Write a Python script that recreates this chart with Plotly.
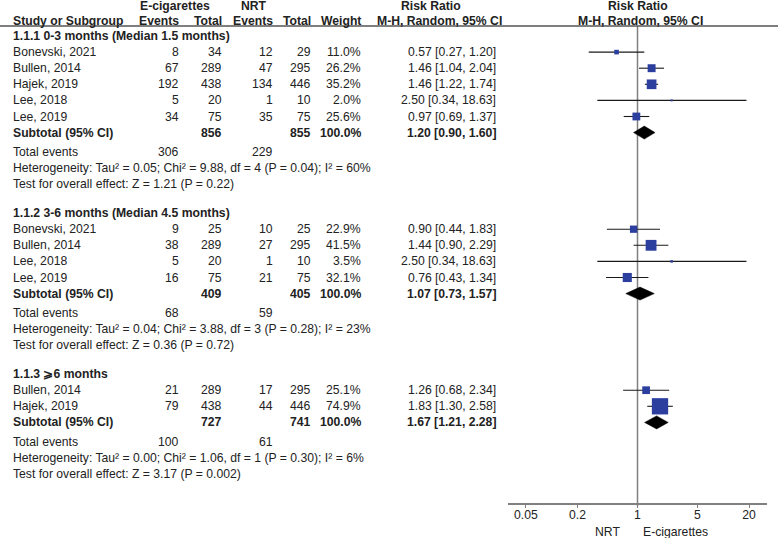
import plotly.graph_objects as go

W, H = 778, 538

# ---- data ----
group_titles = ["1.1.1 0-3 months (Median 1.5 months)",
                "1.1.2 3-6 months (Median 4.5 months)",
                "1.1.3 ⩾6 months"]

study_names = [["Bonevski, 2021", "Bullen, 2014", "Hajek, 2019", "Lee, 2018", "Lee, 2019"],
               ["Bonevski, 2021", "Bullen, 2014", "Lee, 2018", "Lee, 2019"],
               ["Bullen, 2014", "Hajek, 2019"]]
ecig_events = [[8, 67, 192, 5, 34], [9, 38, 5, 16], [21, 79]]
ecig_total = [[34, 289, 438, 20, 75], [25, 289, 20, 75], [289, 438]]
nrt_events = [[12, 47, 134, 1, 35], [10, 27, 1, 21], [17, 44]]
nrt_total = [[29, 295, 446, 10, 75], [25, 295, 10, 75], [295, 446]]
weights = [[11.0, 26.2, 35.2, 2.0, 25.6], [22.9, 41.5, 3.5, 32.1], [25.1, 74.9]]
rr = [[0.57, 1.46, 1.46, 2.50, 0.97], [0.90, 1.44, 2.50, 0.76], [1.26, 1.83]]
rr_lo = [[0.27, 1.04, 1.22, 0.34, 0.69], [0.44, 0.90, 0.34, 0.43], [0.68, 1.30]]
rr_hi = [[1.20, 2.04, 1.74, 18.63, 1.37], [1.83, 2.29, 18.63, 1.34], [2.34, 2.58]]

sub_ecig_total = [856, 409, 727]
sub_nrt_total = [855, 405, 741]
sub_rr = [1.20, 1.07, 1.67]
sub_lo = [0.90, 0.73, 1.21]
sub_hi = [1.60, 1.57, 2.28]
tot_ecig_events = [306, 68, 100]
tot_nrt_events = [229, 59, 61]
heterogeneity = ["Heterogeneity: Tau² = 0.05; Chi² = 9.88, df = 4 (P = 0.04); I² = 60%",
                 "Heterogeneity: Tau² = 0.04; Chi² = 3.88, df = 3 (P = 0.28); I² = 23%",
                 "Heterogeneity: Tau² = 0.00; Chi² = 1.06, df = 1 (P = 0.30); I² = 6%"]
overall_test = ["Test for overall effect: Z = 1.21 (P = 0.22)",
                "Test for overall effect: Z = 0.36 (P = 0.72)",
                "Test for overall effect: Z = 3.17 (P = 0.002)"]

tick_vals = [0.05, 0.2, 1, 5, 20]
tick_text = ["0.05", "0.2", "1", "5", "20"]

# ---- layout constants ----
FONT = "Liberation Sans, Arial, sans-serif"
FS = 12.2
TXT = "#222222"
BLUE = "#2d3f9e"
ROW0, STEP = 36, 16.1
X_STUDY, X_EEV, X_ETOT, X_NEV, X_NTOT, X_WT, X_RR = 12, 180, 223, 274, 312, 362, 497

annotations = []


def txt(x, y, s, anchor="left", bold=False):
    annotations.append(dict(x=x / W, xref="paper", y=y, yref="y",
                            text=f"<b>{s}</b>" if bold else s, showarrow=False,
                            xanchor=anchor, yanchor="middle", borderpad=0,
                            font=dict(family=FONT, size=FS, color=TXT)))


def fmt_ci(est, lo, hi):
    return f"{est:.2f} [{lo:.2f}, {hi:.2f}]"


# header
txt(175, 6, "E-cigarettes", "center", True)
txt(254, 6, "NRT", "center", True)
txt(431, 6, "Risk Ratio", "center", True)
txt(638, 6, "Risk Ratio", "center", True)
txt(X_STUDY, 21, "Study or Subgroup", "left", True)
txt(X_EEV, 21, "Events", "right", True)
txt(X_ETOT, 21, "Total", "right", True)
txt(X_NEV, 21, "Events", "right", True)
txt(X_NTOT, 21, "Total", "right", True)
txt(X_WT, 21, "Weight", "right", True)
txt(439, 21, "M-H, Random, 95% CI", "center", True)
txt(640, 21, "M-H, Random, 95% CI", "center", True)

sq_x, sq_y, sq_size = [], [], []
ci_x, ci_y = [], []
dia_traces = []

r = 0
for g in range(len(group_titles)):
    txt(X_STUDY, ROW0 + STEP * r, group_titles[g], "left", True)
    r += 1
    for i, name in enumerate(study_names[g]):
        y = ROW0 + STEP * r
        txt(X_STUDY, y, name)
        txt(X_EEV, y, str(ecig_events[g][i]), "right")
        txt(X_ETOT, y, str(ecig_total[g][i]), "right")
        txt(X_NEV, y, str(nrt_events[g][i]), "right")
        txt(X_NTOT, y, str(nrt_total[g][i]), "right")
        txt(X_WT, y, f"{weights[g][i]:.1f}%", "right")
        txt(X_RR, y, fmt_ci(rr[g][i], rr_lo[g][i], rr_hi[g][i]), "right")
        ci_x += [rr_lo[g][i], rr_hi[g][i], None]
        ci_y += [y, y, None]
        sq_x.append(rr[g][i])
        sq_y.append(y)
        sq_size.append(0.6 * weights[g][i] ** 0.75 + 1)
        r += 1
    y = ROW0 + STEP * r
    txt(X_STUDY, y, "Subtotal (95% CI)", "left", True)
    txt(X_ETOT, y, str(sub_ecig_total[g]), "right", True)
    txt(X_NTOT, y, str(sub_nrt_total[g]), "right", True)
    txt(X_WT, y, "100.0%", "right", True)
    txt(X_RR, y, fmt_ci(sub_rr[g], sub_lo[g], sub_hi[g]), "right", True)
    dia_traces.append(go.Scatter(
        x=[sub_lo[g], sub_rr[g], sub_hi[g], sub_rr[g], sub_lo[g]],
        y=[y, y - 6.5, y, y + 6.5, y], mode="lines", fill="toself",
        fillcolor="black", line=dict(color="black", width=0.5),
        hoverinfo="skip", showlegend=False))
    r += 1
    y = ROW0 + STEP * r + 3
    txt(X_STUDY, y, "Total events")
    txt(X_EEV, y, str(tot_ecig_events[g]), "right")
    txt(X_NEV, y, str(tot_nrt_events[g]), "right")
    r += 1
    txt(X_STUDY, ROW0 + STEP * r + 3, heterogeneity[g])
    r += 1
    txt(X_STUDY, ROW0 + STEP * r + 3, overall_test[g])
    r += 2

# axis caption
txt(621, 532, "NRT", "right")
txt(642, 532, "E-cigarettes", "left")

fig = go.Figure()
fig.add_trace(go.Scatter(x=[1, 1], y=[26, 506], mode="lines",
                         line=dict(color="#808080", width=1.5),
                         hoverinfo="skip", showlegend=False))
fig.add_trace(go.Scatter(x=ci_x, y=ci_y, mode="lines",
                         line=dict(color="#1a1a1a", width=1.1),
                         hoverinfo="skip", showlegend=False))
for t in dia_traces:
    fig.add_trace(t)
fig.add_trace(go.Scatter(x=sq_x, y=sq_y, mode="markers", opacity=1,
                         marker=dict(symbol="square", size=sq_size, color=BLUE,
                                     opacity=1, line=dict(width=0)),
                         showlegend=False))

fig.add_shape(type="line", xref="paper", yref="y", x0=0, x1=1, y0=26, y1=26,
              line=dict(color="#555555", width=1.5))

fig.update_layout(
    width=W, height=H, margin=dict(l=0, r=0, t=0, b=0),
    paper_bgcolor="white", plot_bgcolor="white",
    annotations=annotations,
    font=dict(family=FONT, size=FS, color=TXT),
    xaxis=dict(type="log", range=[-1.51, 1.51], domain=[508 / W, 767 / W],
               anchor="free", position=34 / H,
               showline=True, linecolor="#808080", linewidth=1.5,
               ticks="outside", ticklen=3, tickcolor="#808080", tickwidth=1.2,
               ticklabelstandoff=-3,
               tickvals=tick_vals, ticktext=tick_text,
               tickfont=dict(family=FONT, size=FS, color=TXT),
               showgrid=False, zeroline=False, fixedrange=True),
    yaxis=dict(range=[H, 0], domain=[0, 1], visible=False, fixedrange=True),
)

# the page body has a default 8px margin; remove it so the figure fills the window
fig.write_html("out.html", config={"displayModeBar": False},
               post_script="document.body.style.margin='0';")
